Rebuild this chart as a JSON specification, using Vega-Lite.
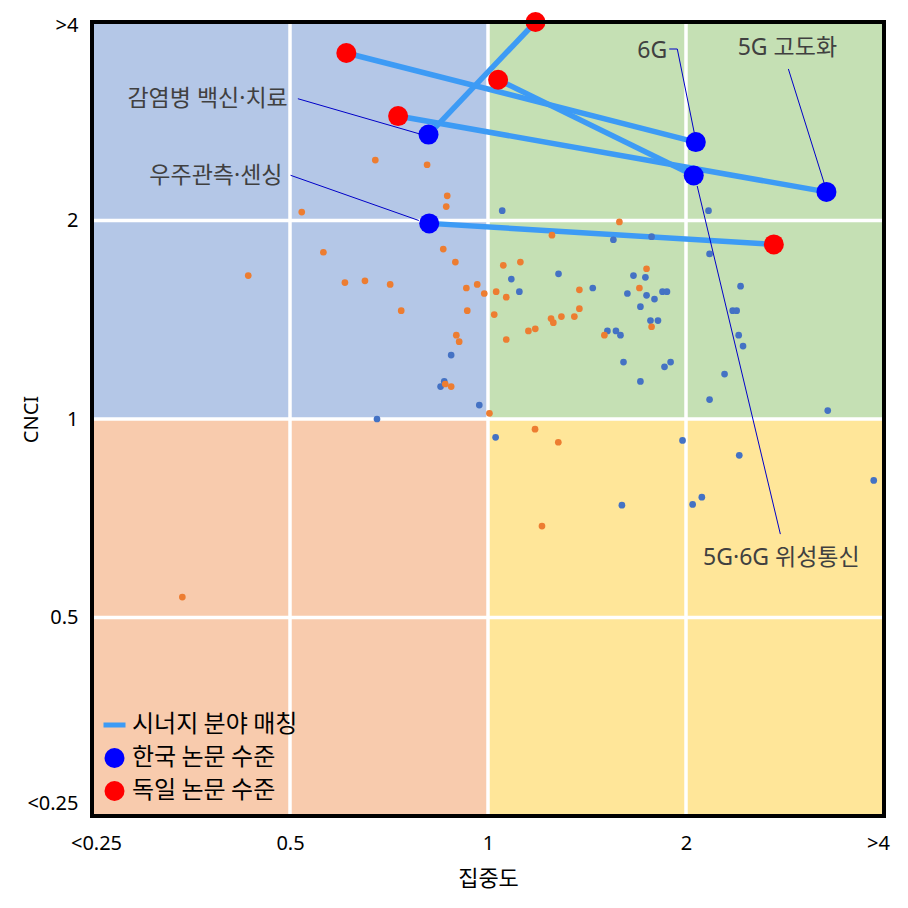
{
  "$schema": "https://vega.github.io/schema/vega-lite/v6.json",
  "width": 792,
  "height": 794,
  "autosize": {"type": "none"},
  "padding": {"left": 92, "top": 22, "right": 24, "bottom": 92},
  "background": "white",
  "config": {"view": {"stroke": null}, "font": "Noto Sans CJK KR"},
  "datasets": {
    "quadrants": [
      {"q": "A", "x1": 0.25, "x2": 1, "y1": 1, "y2": 4},
      {"q": "B", "x1": 1, "x2": 4, "y1": 1, "y2": 4},
      {"q": "C", "x1": 0.25, "x2": 1, "y1": 0.25, "y2": 1},
      {"q": "D", "x1": 1, "x2": 4, "y1": 0.25, "y2": 1}
    ],
    "grid": [{"v": 0.5}, {"v": 1}, {"v": 2}],
    "dots": [
      {"c": "DE", "x": 0.674, "y": 2.47}, {"c": "DE", "x": 0.808, "y": 2.43}, {"c": "DE", "x": 0.521, "y": 2.06},
      {"c": "DE", "x": 0.867, "y": 2.18}, {"c": "DE", "x": 0.864, "y": 2.10}, {"c": "DE", "x": 0.855, "y": 1.81},
      {"c": "DE", "x": 0.892, "y": 1.73}, {"c": "DE", "x": 0.562, "y": 1.79}, {"c": "DE", "x": 0.432, "y": 1.65},
      {"c": "DE", "x": 0.606, "y": 1.61}, {"c": "DE", "x": 0.650, "y": 1.62}, {"c": "DE", "x": 0.710, "y": 1.60},
      {"c": "DE", "x": 0.738, "y": 1.46}, {"c": "DE", "x": 0.927, "y": 1.58}, {"c": "DE", "x": 0.963, "y": 1.60},
      {"c": "DE", "x": 0.987, "y": 1.55}, {"c": "DE", "x": 0.930, "y": 1.46}, {"c": "DE", "x": 0.895, "y": 1.34},
      {"c": "DE", "x": 0.904, "y": 1.31}, {"c": "DE", "x": 0.861, "y": 1.13}, {"c": "DE", "x": 0.879, "y": 1.12},
      {"c": "DE", "x": 1.005, "y": 1.02}, {"c": "DE", "x": 1.584, "y": 1.99}, {"c": "DE", "x": 1.251, "y": 1.90},
      {"c": "DE", "x": 1.055, "y": 1.71}, {"c": "DE", "x": 1.120, "y": 1.73}, {"c": "DE", "x": 1.029, "y": 1.56},
      {"c": "DE", "x": 1.066, "y": 1.53}, {"c": "DE", "x": 1.377, "y": 1.57}, {"c": "DE", "x": 1.742, "y": 1.69},
      {"c": "DE", "x": 1.699, "y": 1.58}, {"c": "DE", "x": 1.022, "y": 1.44}, {"c": "DE", "x": 1.377, "y": 1.47},
      {"c": "DE", "x": 1.247, "y": 1.42}, {"c": "DE", "x": 1.257, "y": 1.40}, {"c": "DE", "x": 1.293, "y": 1.43},
      {"c": "DE", "x": 1.353, "y": 1.43}, {"c": "DE", "x": 1.152, "y": 1.36}, {"c": "DE", "x": 1.180, "y": 1.37},
      {"c": "DE", "x": 1.066, "y": 1.32}, {"c": "DE", "x": 1.503, "y": 1.34}, {"c": "DE", "x": 1.773, "y": 1.38},
      {"c": "DE", "x": 1.179, "y": 0.965}, {"c": "DE", "x": 1.279, "y": 0.922}, {"c": "DE", "x": 1.208, "y": 0.688},
      {"c": "DE", "x": 0.343, "y": 0.537},
      {"c": "KR", "x": 0.879, "y": 1.25}, {"c": "KR", "x": 0.858, "y": 1.14}, {"c": "KR", "x": 0.847, "y": 1.12},
      {"c": "KR", "x": 0.970, "y": 1.05}, {"c": "KR", "x": 0.678, "y": 1.0}, {"c": "KR", "x": 1.051, "y": 2.07},
      {"c": "KR", "x": 2.164, "y": 2.07}, {"c": "KR", "x": 1.551, "y": 1.87}, {"c": "KR", "x": 1.773, "y": 1.89},
      {"c": "KR", "x": 2.172, "y": 1.78}, {"c": "KR", "x": 1.085, "y": 1.63}, {"c": "KR", "x": 1.280, "y": 1.66},
      {"c": "KR", "x": 1.116, "y": 1.56}, {"c": "KR", "x": 1.443, "y": 1.58}, {"c": "KR", "x": 1.664, "y": 1.65},
      {"c": "KR", "x": 1.735, "y": 1.64}, {"c": "KR", "x": 1.629, "y": 1.55}, {"c": "KR", "x": 1.742, "y": 1.54},
      {"c": "KR", "x": 1.791, "y": 1.52}, {"c": "KR", "x": 1.842, "y": 1.56}, {"c": "KR", "x": 1.871, "y": 1.56},
      {"c": "KR", "x": 2.421, "y": 1.59}, {"c": "KR", "x": 1.705, "y": 1.48}, {"c": "KR", "x": 2.355, "y": 1.46},
      {"c": "KR", "x": 2.388, "y": 1.46}, {"c": "KR", "x": 1.519, "y": 1.36}, {"c": "KR", "x": 1.565, "y": 1.36},
      {"c": "KR", "x": 1.590, "y": 1.34}, {"c": "KR", "x": 1.766, "y": 1.41}, {"c": "KR", "x": 1.813, "y": 1.41},
      {"c": "KR", "x": 2.405, "y": 1.34}, {"c": "KR", "x": 2.442, "y": 1.29}, {"c": "KR", "x": 1.607, "y": 1.22},
      {"c": "KR", "x": 1.855, "y": 1.20}, {"c": "KR", "x": 1.895, "y": 1.22}, {"c": "KR", "x": 2.289, "y": 1.17},
      {"c": "KR", "x": 1.705, "y": 1.14}, {"c": "KR", "x": 2.172, "y": 1.07}, {"c": "KR", "x": 3.285, "y": 1.03},
      {"c": "KR", "x": 1.027, "y": 0.938}, {"c": "KR", "x": 1.976, "y": 0.928}, {"c": "KR", "x": 2.410, "y": 0.881},
      {"c": "KR", "x": 3.859, "y": 0.807}, {"c": "KR", "x": 1.598, "y": 0.740}, {"c": "KR", "x": 2.047, "y": 0.742},
      {"c": "KR", "x": 2.114, "y": 0.761}
    ],
    "pairs": [
      {"topic": "감염병 백신·치료", "series": "한국 논문 수준", "x": 0.812, "y": 2.70},
      {"topic": "감염병 백신·치료", "series": "독일 논문 수준", "x": 1.181, "y": 4.0},
      {"topic": "6G", "series": "한국 논문 수준", "x": 2.07, "y": 2.63},
      {"topic": "6G", "series": "독일 논문 수준", "x": 0.609, "y": 3.59},
      {"topic": "5G·6G 위성통신", "series": "한국 논문 수준", "x": 2.055, "y": 2.34},
      {"topic": "5G·6G 위성통신", "series": "독일 논문 수준", "x": 1.036, "y": 3.27},
      {"topic": "5G 고도화", "series": "한국 논문 수준", "x": 3.27, "y": 2.21},
      {"topic": "5G 고도화", "series": "독일 논문 수준", "x": 0.730, "y": 2.88},
      {"topic": "우주관측·센싱", "series": "한국 논문 수준", "x": 0.814, "y": 1.98},
      {"topic": "우주관측·센싱", "series": "독일 논문 수준", "x": 2.72, "y": 1.84}
    ],
    "leaders": [
      {"x": 0.514, "y": 3.06, "x2": 0.788, "y2": 2.705},
      {"x": 0.501, "y": 2.342, "x2": 0.785, "y2": 2.0},
      {"x": 1.886, "y": 3.64, "x2": 1.94, "y2": 3.64},
      {"x": 1.94, "y": 3.64, "x2": 2.059, "y2": 2.715},
      {"x": 2.862, "y": 3.395, "x2": 3.247, "y2": 2.272},
      {"x": 2.08, "y": 2.256, "x2": 2.783, "y2": 0.669}
    ],
    "labelsRight": [
      {"label": "감염병 백신·치료", "x": 0.496, "y": 3.06},
      {"label": "우주관측·센싱", "x": 0.487, "y": 2.336}
    ],
    "labelsCenter": [
      {"label": "6G", "x": 1.777, "y": 3.615},
      {"label": "5G 고도화", "x": 2.852, "y": 3.653},
      {"label": "5G·6G 위성통신", "x": 2.793, "y": 0.616}
    ]
  },
  "layer": [
    {
      "data": {"name": "quadrants"},
      "mark": {"type": "rect"},
      "encoding": {
        "x": {
          "field": "x1", "type": "quantitative",
          "scale": {"type": "log", "base": 2, "domain": [0.25, 4], "nice": false},
          "axis": {
            "title": "집중도", "values": [0.25, 0.5, 1, 2, 4],
            "labelExpr": "datum.value <= 0.25 ? '<0.25' : datum.value >= 4 ? '>4' : datum.value + ''",
            "grid": false, "domain": false, "ticks": false,
            "labelFont": "Noto Sans", "labelFontSize": 20, "labelColor": "black",
            "labelPadding": 17, "labelFlush": false, "labelOverlap": false, "labelBound": false,
            "labelOffset": {"condition": [{"test": "datum.value <= 0.25", "value": 4}, {"test": "datum.value >= 4", "value": -6}], "value": 0},
            "titleFont": "Noto Sans CJK KR", "titleFontSize": 22, "titleFontWeight": "normal",
            "titleColor": "black", "titleY": 52, "titleBaseline": "top"
          }
        },
        "x2": {"field": "x2"},
        "y": {
          "field": "y1", "type": "quantitative",
          "scale": {"type": "log", "base": 2, "domain": [0.25, 4], "nice": false},
          "axis": {
            "title": "CNCI", "values": [0.25, 0.5, 1, 2, 4],
            "labelExpr": "datum.value <= 0.25 ? '<0.25' : datum.value >= 4 ? '>4' : datum.value + ''",
            "grid": false, "domain": false, "ticks": false,
            "labelFont": "Noto Sans", "labelFontSize": 20, "labelColor": "black",
            "labelPadding": 14, "labelFlush": false, "labelOverlap": false, "labelBound": false,
            "labelOffset": {"condition": [{"test": "datum.value >= 4", "value": 3}, {"test": "datum.value <= 0.25", "value": -13}], "value": 0},
            "titleFont": "Noto Sans", "titleFontSize": 20, "titleFontWeight": "normal",
            "titleColor": "black", "titleX": -61, "titleBaseline": "middle"
          }
        },
        "y2": {"field": "y2"},
        "fill": {
          "field": "q", "type": "nominal",
          "scale": {"domain": ["A", "B", "C", "D"], "range": ["#B4C7E7", "#C5E0B4", "#F8CBAD", "#FFE699"]},
          "legend": null
        }
      }
    },
    {
      "data": {"name": "grid"},
      "mark": {"type": "rule", "color": "white", "strokeWidth": 3.5},
      "encoding": {"x": {"field": "v", "type": "quantitative"}}
    },
    {
      "data": {"name": "grid"},
      "mark": {"type": "rule", "color": "white", "strokeWidth": 3.5},
      "encoding": {"y": {"field": "v", "type": "quantitative"}}
    },
    {
      "data": {"name": "pairs"},
      "mark": {"type": "line", "color": "#3D9BF5", "strokeWidth": 5.5},
      "encoding": {
        "x": {"field": "x", "type": "quantitative"},
        "y": {"field": "y", "type": "quantitative"},
        "detail": {"field": "topic"}
      }
    },
    {
      "data": {"name": "dots"},
      "transform": [{"filter": "datum.c === 'KR'"}],
      "mark": {"type": "point", "filled": true, "opacity": 1, "size": 45, "color": "#4472C4"},
      "encoding": {
        "x": {"field": "x", "type": "quantitative"},
        "y": {"field": "y", "type": "quantitative"}
      }
    },
    {
      "data": {"name": "dots"},
      "transform": [{"filter": "datum.c === 'DE'"}],
      "mark": {"type": "point", "filled": true, "opacity": 1, "size": 45, "color": "#ED7D31"},
      "encoding": {
        "x": {"field": "x", "type": "quantitative"},
        "y": {"field": "y", "type": "quantitative"}
      }
    },
    {
      "data": {"name": "pairs"},
      "mark": {"type": "point", "filled": true, "opacity": 1, "size": 400},
      "encoding": {
        "x": {"field": "x", "type": "quantitative"},
        "y": {"field": "y", "type": "quantitative"},
        "color": {
          "field": "series", "type": "nominal",
          "scale": {"domain": ["시너지 분야 매칭", "한국 논문 수준", "독일 논문 수준"], "range": ["#3D9BF5", "#0000FF", "#FF0000"]},
          "legend": {
            "title": null, "orient": "none", "legendX": 10, "legendY": 690.5,
            "labelFont": "Noto Sans CJK KR", "labelFontSize": 24, "labelColor": "black", "labelLimit": 500,
            "symbolSize": 400, "symbolOpacity": 1, "labelOffset": 5, "rowPadding": -8, "padding": 0, "gridAlign": "all",
            "encode": {"symbols": {"update": {"stroke": {"signal": "datum.value === '시너지 분야 매칭' ? '#3D9BF5' : 'transparent'"}, "strokeWidth": {"value": 5}}}}
          }
        },
        "shape": {
          "field": "series", "type": "nominal",
          "scale": {"domain": ["시너지 분야 매칭", "한국 논문 수준", "독일 논문 수준"], "range": ["M-1.1,0H1.1", "circle", "circle"]},
          "legend": {
            "title": null, "orient": "none", "legendX": 10, "legendY": 690.5,
            "labelFont": "Noto Sans CJK KR", "labelFontSize": 24, "labelColor": "black", "labelLimit": 500,
            "symbolSize": 400, "symbolOpacity": 1, "labelOffset": 5, "rowPadding": -8, "padding": 0, "gridAlign": "all",
            "encode": {"symbols": {"update": {"stroke": {"signal": "datum.value === '시너지 분야 매칭' ? '#3D9BF5' : 'transparent'"}, "strokeWidth": {"value": 5}}}}
          }
        }
      }
    },
    {
      "data": {"name": "leaders"},
      "mark": {"type": "rule", "color": "#0000C8", "strokeWidth": 1},
      "encoding": {
        "x": {"field": "x", "type": "quantitative"},
        "y": {"field": "y", "type": "quantitative"},
        "x2": {"field": "x2"},
        "y2": {"field": "y2"}
      }
    },
    {
      "data": {"name": "labelsRight"},
      "mark": {"type": "text", "align": "right", "baseline": "middle", "font": "Noto Sans, Noto Sans CJK KR", "fontSize": 23, "color": "#404040"},
      "encoding": {
        "x": {"field": "x", "type": "quantitative"},
        "y": {"field": "y", "type": "quantitative"},
        "text": {"field": "label"}
      }
    },
    {
      "data": {"name": "labelsCenter"},
      "mark": {"type": "text", "align": "center", "baseline": "middle", "font": "Noto Sans, Noto Sans CJK KR", "fontSize": 23, "color": "#404040"},
      "encoding": {
        "x": {"field": "x", "type": "quantitative"},
        "y": {"field": "y", "type": "quantitative"},
        "text": {"field": "label"}
      }
    },
    {
      "data": {"values": [{}]},
      "mark": {"type": "rect", "fill": "transparent", "stroke": "black", "strokeWidth": 4},
      "encoding": {
        "x": {"datum": 0.25, "type": "quantitative"},
        "x2": {"datum": 4},
        "y": {"datum": 0.25, "type": "quantitative"},
        "y2": {"datum": 4}
      }
    }
  ]
}
